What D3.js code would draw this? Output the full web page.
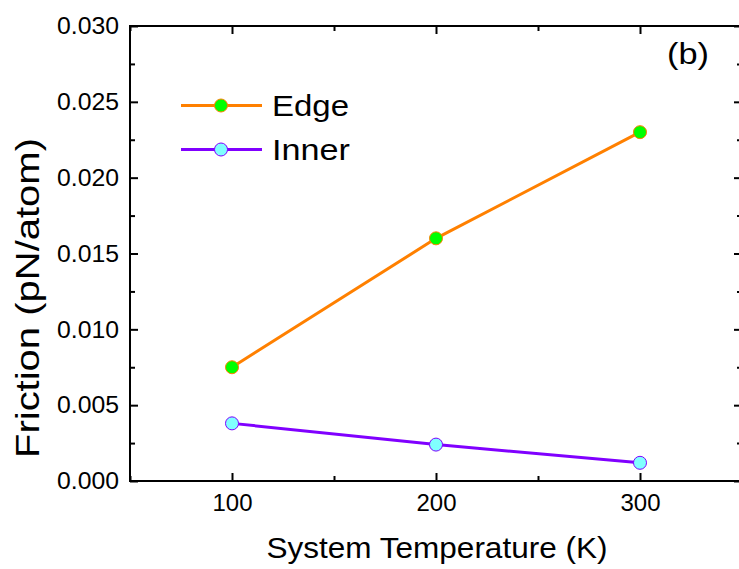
<!DOCTYPE html>
<html>
<head>
<meta charset="utf-8">
<script src="https://cdn.jsdelivr.net/npm/d3@7"></script>
<style>
  body { margin: 0; background: #fff; }
  svg text { font-family: "Liberation Sans", Arial, sans-serif; fill: #000; }
</style>
</head>
<body>
<div id="chart"></div>
<script>
// Data
const temperatures = [100, 200, 300];
const edgeFriction = [0.0075, 0.016, 0.023];
const innerFriction = [0.0038, 0.0024, 0.0012];
const xTicks = [100, 200, 300];
const xMinorTicks = [50, 150, 250, 350];
const yTicks = [0, 0.005, 0.010, 0.015, 0.020, 0.025, 0.030];
const yMinorTicks = [0.0025, 0.0075, 0.0125, 0.0175, 0.0225, 0.0275];

const series = [
    {name: "Edge", values: edgeFriction, line: "#ff8000", fill: "#00ff00", labelWidth: 77},
    {name: "Inner", values: innerFriction, line: "#8000ff", fill: "#80ffff", labelWidth: 78}
];

// Dimensions
const margin = {top: 26, right: 0, bottom: 88, left: 130};
const fullWidth = 739, fullHeight = 569;
const width = 612;
const height = 455;

const svg = d3.select("#chart")
    .append("svg")
    .attr("width", fullWidth)
    .attr("height", fullHeight);

const g = svg.append("g")
    .attr("transform", "translate(" + margin.left + "," + margin.top + ")");

// Scales
const xScale = d3.scaleLinear().domain([50, 350]).range([0, width]);
const yScale = d3.scaleLinear().domain([0, 0.030]).range([height, 0]);

// Axes with inward ticks
function styleAxis(sel) {
    sel.select(".domain").remove();
    sel.selectAll("line").attr("stroke", "#000").attr("stroke-width", 2);
    sel.selectAll("text").style("font-size", "24px");
}

g.append("g")
    .attr("transform", "translate(0," + height + ")")
    .call(d3.axisBottom(xScale).tickValues(xTicks).tickFormat(d3.format("d"))
        .tickSizeInner(-8).tickSizeOuter(0).tickPadding(13))
    .call(styleAxis)
    .selectAll("text")
    .attr("textLength", 40)
    .attr("lengthAdjust", "spacingAndGlyphs");

g.append("g")
    .attr("transform", "translate(0," + height + ")")
    .call(d3.axisBottom(xScale).tickValues(xMinorTicks).tickFormat("")
        .tickSizeInner(-5).tickSizeOuter(0))
    .call(styleAxis);

g.append("g")
    .call(d3.axisTop(xScale).tickValues(xTicks).tickFormat("")
        .tickSizeInner(-8).tickSizeOuter(0))
    .call(styleAxis);

g.append("g")
    .call(d3.axisTop(xScale).tickValues(xMinorTicks).tickFormat("")
        .tickSizeInner(-5).tickSizeOuter(0))
    .call(styleAxis);

g.append("g")
    .call(d3.axisLeft(yScale).tickValues(yTicks).tickFormat(d3.format(".3f"))
        .tickSizeInner(-8).tickSizeOuter(0).tickPadding(11))
    .call(styleAxis)
    .selectAll("text")
    .attr("textLength", 62)
    .attr("lengthAdjust", "spacingAndGlyphs");

g.append("g")
    .call(d3.axisLeft(yScale).tickValues(yMinorTicks).tickFormat("")
        .tickSizeInner(-5).tickSizeOuter(0))
    .call(styleAxis);

g.append("g")
    .attr("transform", "translate(" + width + ",0)")
    .call(d3.axisRight(yScale).tickValues(yTicks).tickFormat("")
        .tickSizeInner(-8).tickSizeOuter(0))
    .call(styleAxis);

g.append("g")
    .attr("transform", "translate(" + width + ",0)")
    .call(d3.axisRight(yScale).tickValues(yMinorTicks).tickFormat("")
        .tickSizeInner(-5).tickSizeOuter(0))
    .call(styleAxis);

// Frame
g.append("rect")
    .attr("x", 0)
    .attr("y", 0)
    .attr("width", width)
    .attr("height", height)
    .attr("fill", "none")
    .attr("stroke", "#000")
    .attr("stroke-width", 2);

// Axis labels
svg.append("text")
    .attr("text-anchor", "middle")
    .attr("x", 437)
    .attr("y", 558)
    .attr("textLength", 341)
    .attr("lengthAdjust", "spacingAndGlyphs")
    .style("font-size", "30px")
    .text("System Temperature (K)");

svg.append("text")
    .attr("text-anchor", "middle")
    .attr("transform", "rotate(-90)")
    .attr("x", -298)
    .attr("y", 39)
    .attr("textLength", 320)
    .attr("lengthAdjust", "spacingAndGlyphs")
    .style("font-size", "33px")
    .text("Friction (pN/atom)");

svg.append("text")
    .attr("x", 667)
    .attr("y", 64)
    .attr("textLength", 42)
    .attr("lengthAdjust", "spacingAndGlyphs")
    .style("font-size", "30px")
    .text("(b)");

// Lines and points
const line = d3.line()
    .x((d, i) => xScale(temperatures[i]))
    .y(d => yScale(d));

series.forEach(s => {
    g.append("path")
        .datum(s.values)
        .attr("d", line)
        .attr("fill", "none")
        .attr("stroke", s.line)
        .attr("stroke-width", 3);

    g.selectAll(".point-" + s.name)
        .data(s.values)
        .enter()
        .append("circle")
        .attr("class", "point-" + s.name)
        .attr("cx", (d, i) => xScale(temperatures[i]))
        .attr("cy", d => yScale(d))
        .attr("r", 6.5)
        .attr("fill", s.fill)
        .attr("stroke", s.line)
        .attr("stroke-width", 1);
});

// Legend
const legend = svg.append("g").attr("transform", "translate(181,105.5)");

series.forEach((s, i) => {
    const row = legend.append("g").attr("transform", "translate(0," + (i * 44) + ")");
    row.append("line")
        .attr("x1", 0).attr("x2", 81)
        .attr("y1", 0).attr("y2", 0)
        .attr("stroke", s.line)
        .attr("stroke-width", 3);
    row.append("circle")
        .attr("cx", 40).attr("cy", 0)
        .attr("r", 6.5)
        .attr("fill", s.fill)
        .attr("stroke", s.line)
        .attr("stroke-width", 1);
    row.append("text")
        .attr("x", 91)
        .attr("y", 10.5)
        .attr("textLength", s.labelWidth)
        .attr("lengthAdjust", "spacingAndGlyphs")
        .style("font-size", "30px")
        .text(s.name);
});
</script>
</body>
</html>
